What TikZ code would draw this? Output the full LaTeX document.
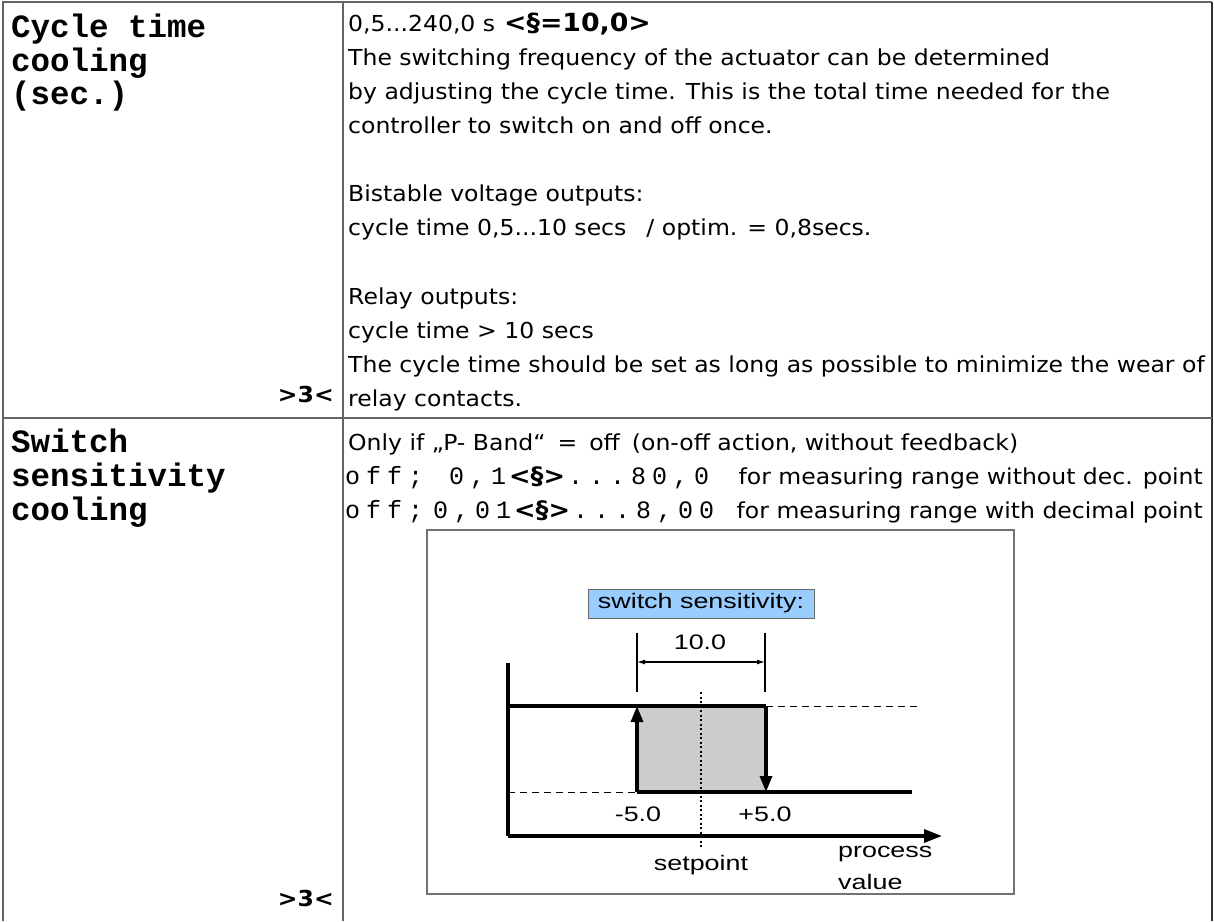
\documentclass[tikz,border=0pt]{standalone}
\usepackage{fontspec}
\setmainfont{DejaVu Sans}[FakeStretch=1.07]
\newfontfamily\figfont{Liberation Sans}[FakeStretch=1.28]
\newfontfamily\monofont{Liberation Mono}
\usetikzlibrary{arrows.meta}
\newlength\cw
\setlength\cw{21pt}
\makeatletter
\def\cells#1{\cells@#1\@nil}
\def\cells@#1{\ifx#1\@nil\else\makebox[\cw][c]{#1}\expandafter\cells@\fi}
\makeatother
\definecolor{skyfill}{RGB}{153,204,255}
\definecolor{greyfill}{RGB}{204,204,204}
\tikzset{
  txt/.style={anchor=base west, inner sep=0pt, font=\fontsize{22}{34}\selectfont},
  rtxt/.style={anchor=base east, inner sep=0pt, font=\fontsize{22}{34}\selectfont},
  ltxt/.style={anchor=base west, inner sep=0pt, font=\monofont\bfseries\fontsize{32.5}{34}\selectfont},
  mark3/.style={anchor=base east, inner sep=0pt, font=\bfseries\fontsize{22}{34}\selectfont},
  mtxt/.style={anchor=base west, inner sep=0pt, font=\fontsize{22}{34}\selectfont},
  tline/.style={draw=black!60, line width=1.5pt},
  ftxt/.style={inner sep=0pt, font=\figfont\fontsize{21}{28}\selectfont},
  gline/.style={line width=3.2pt},
  dline/.style={line width=1pt, dash pattern=on 7pt off 5pt},
  thinl/.style={line width=1.5pt},
}
\newcommand{\mono}[1]{{\monofont\fontsize{25}{34}\selectfont\cells{#1}}}
\newcommand{\bsec}{{\bfseries\fontsize{24}{34}\selectfont<§>}}
\begin{document}
\begin{tikzpicture}[x=1pt,y=-1pt]
\useasboundingbox (0,0) rectangle (1214,921);
% table
\draw[tline] (3,921) -- (3,2) -- (1212,2);
\draw[tline, draw=black!80] (1212,2) -- (1212,921);
\draw[tline] (343,2) -- (343,921);
\draw[tline] (3,418) -- (1212,418);
% left column
\node[ltxt] (l1) at (11,37.5) {Cycle time};
\node[ltxt] (l2) at (11,71) {cooling};
\node[ltxt] (l3) at (11,104.5) {(sec.)};
\node[mark3] (m1) at (334,402) {>3<};
\node[ltxt] (s1) at (11,452) {Switch};
\node[ltxt] (s2) at (11,486) {sensitivity};
\node[ltxt] (s3) at (11,520) {cooling};
\node[mark3] (m2) at (334,906) {>3<};
% right column, row 1
\node[txt] (r1) at (348,31) {0,5...240,0 s\hspace{9pt}{\bfseries\fontsize{25}{34}\selectfont<§=10,0>}};
\node[txt] (r2) at (348,65) {The switching frequency of the actuator can be determined};
\node[txt] (r3) at (348,99) {by adjusting the cycle time. This is the total time needed for the};
\node[txt] (r4) at (348,133) {controller to switch on and off once.};
\node[txt] (r6) at (348,201) {Bistable voltage outputs:};
\node[txt] (r7) at (348,235) {cycle time 0,5...10 secs\hspace{20pt}/ optim. = 0,8secs.};
\node[txt] (r9) at (348,304) {Relay outputs:};
\node[txt] (r10) at (348,338) {cycle time > 10 secs};
\node[txt] (r11) at (348,372) {The cycle time should be set as long as possible to minimize the wear of};
\node[txt] (r12) at (348,406) {relay contacts.};
% right column, row 2
\node[txt] (q1) at (348,450) {Only if „P- Band“\hspace{12pt}=\hspace{12pt}off\hspace{12pt}(on-off action, without feedback)};
\node[mtxt] (q2a) at (342,484) {\mono{off;}};
\node[mtxt] (q2b) at (446,484) {\mono{0,1}\bsec\mono{...80,0}};
\node[rtxt] (q2c) at (1203,484) {for measuring range without dec. point};
\node[mtxt] (q3a) at (342,518) {\mono{off;}};
\node[mtxt] (q3b) at (430,518) {\mono{0,01}\bsec\mono{...8,00}};
\node[rtxt] (q3c) at (1203,518) {for measuring range with decimal point};
% figure frame
\draw[draw=black!55, line width=1.5pt] (427,530) rectangle (1014,894);
% coordinates
\coordinate (o) at (508,836);
\coordinate (ytop) at (508,663);
\coordinate (xend) at (942,836);
\coordinate (ul) at (508,706);
\coordinate (uA) at (637,706);
\coordinate (uB) at (766,706);
\coordinate (uE) at (920,706);
\coordinate (ll) at (508,792);
\coordinate (lA) at (637,792);
\coordinate (lB) at (766,792);
\coordinate (lE) at (912,792);
\coordinate (spT) at (701,692);
\coordinate (spB) at (701,848);
\coordinate (dAt) at (637,633);
\coordinate (dAb) at (637,692);
\coordinate (dBt) at (765,633);
\coordinate (dBb) at (765,692);
\coordinate (dA) at (637,662);
\coordinate (dB) at (765,662);
% shaded hysteresis
\fill[greyfill] (uA) rectangle (lB);
% dashed extensions
\draw[dline] (uB) -- (uE);
\draw[dline] (ll) -- (lA);
% solid levels
\draw[gline] (ul) -- (uB);
\draw[gline] (lA) -- (lE);
% switching arrows
\draw[gline, -{Triangle[length=16pt,width=12pt]}] (lA) -- (uA);
\draw[gline, -{Triangle[length=16pt,width=12pt]}] (uB) -- (lB);
% setpoint line
\draw[line width=2pt, dash pattern=on 2pt off 2.5pt] (spT) -- (spB);
% axes
\draw[gline] (ytop) -- (o);
\draw[gline, -{Triangle[length=18pt,width=13pt]}] (o) -- (xend);
% dimension
\draw[thinl] (dAt) -- (dAb);
\draw[thinl] (dBt) -- (dBb);
\draw[line width=1.2pt, {Latex[length=8pt,width=5pt]}-{Latex[length=8pt,width=5pt]}] (dA) -- (dB);
% labels
\node[ftxt, fill=skyfill, draw=black!60, line width=1pt, minimum width=226pt, minimum height=29pt] (lbl) at (701,603.5) {switch sensitivity:};
\node[ftxt] (ten) at (700,642) {10.0};
\node[ftxt] (mfive) at (638,814) {-5.0};
\node[ftxt] (pfive) at (765,814) {+5.0};
\node[ftxt] (sp) at (701,865) {setpoint};
\node[ftxt, anchor=west] (pv1) at (838,854) {process};
\node[ftxt, anchor=west] (pv2) at (838,882) {value};
\end{tikzpicture}
\end{document}
